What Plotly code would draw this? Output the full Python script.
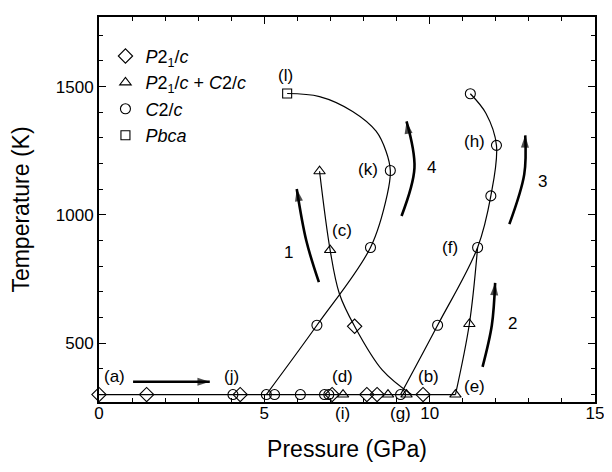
import plotly.graph_objects as go

# ---------------- data (pressure GPa, temperature K) ----------------
p21c_P = [0.0, 1.44, 4.27, 7.05, 8.10, 8.41, 9.80, 7.73]
p21c_T = [300, 300, 300, 300, 300, 300, 300, 566]

mix_P = [7.38, 8.74, 9.30, 10.78, 6.99, 6.67, 11.20]
mix_T = [300, 300, 300, 300, 863, 1170, 575]

c2c_P = [4.05, 5.06, 5.31, 6.09, 6.82, 6.95, 9.12, 6.59, 8.21, 8.81,
         10.24, 11.45, 11.85, 12.02, 11.23]
c2c_T = [300, 300, 300, 300, 300, 300, 300, 570, 873, 1173,
         570, 873, 1074, 1271, 1472]

pbca_P = [5.69]
pbca_T = [1473]

# phase-boundary guide curves
curveA_P = [5.06, 6.59, 8.21, 8.72, 8.81, 8.68, 8.38, 7.67, 6.67, 5.69]
curveA_T = [300, 570, 873, 1081, 1173, 1248, 1326, 1403, 1461, 1473]
curveB_P = [6.67, 6.99, 7.27, 7.73, 8.57, 9.45]
curveB_T = [1170, 863, 693, 566, 395, 300]
curveC_P = [9.12, 10.24, 11.45, 11.85, 12.02, 11.70, 11.23]
curveC_T = [300, 570, 873, 1074, 1271, 1396, 1472]
curveD_P = [10.78, 11.20, 11.45]
curveD_T = [300, 575, 873]
base_P = [0.0, 10.78]
base_T = [300, 300]

# path arrows
arrows = {
    "a": ([1.03, 3.35], [350, 350]),
    "1": ([6.65, 6.27, 5.98], [738, 899, 1101]),
    "2": ([11.60, 11.88, 11.98], [408, 570, 735]),
    "3": ([12.41, 12.86, 12.89], [964, 1158, 1310]),
    "4": ([9.15, 9.54, 9.30], [996, 1183, 1364]),
}

# labels inside plot
lab_text = ["(a)", "(j)", "(d)", "(b)", "(e)", "(c)", "(k)", "(l)", "(h)", "(f)",
            "1", "2", "3", "4"]
lab_P = [0.48, 4.0, 7.35, 9.96, 11.35, 7.35, 8.13, 5.63, 11.35, 10.6,
         5.73, 12.5, 13.41, 10.07]
lab_T = [369, 369, 369, 369, 333, 938, 1177, 1545, 1287, 873,
         854, 575, 1132, 1183]
# labels below the axis
low_text = ["(i)", "(g)"]
low_P = [7.37, 9.13]

FONT = "Liberation Sans, Arial, Helvetica, sans-serif"

fig = go.Figure()

line_style = dict(color="black", width=1.2, shape="spline", smoothing=1.0)
for px, ty in [(curveA_P, curveA_T), (curveB_P, curveB_T), (curveC_P, curveC_T),
               (curveD_P, curveD_T)]:
    fig.add_trace(go.Scatter(x=px, y=ty, mode="lines", line=line_style,
                             showlegend=False, hoverinfo="skip"))
fig.add_trace(go.Scatter(x=base_P, y=base_T, mode="lines",
                         line=dict(color="black", width=1.2),
                         showlegend=False, hoverinfo="skip", cliponaxis=False))

for key, (px, ty) in arrows.items():
    n = len(px)
    fig.add_trace(go.Scatter(
        x=px, y=ty, mode="lines+markers",
        line=dict(color="black", width=2.6, shape="spline"),
        marker=dict(symbol=["circle"] * (n - 1) + ["arrow"],
                    size=[0] * (n - 1) + [13],
                    angleref="previous", color="black",
                    line=dict(width=0)),
        showlegend=False, hoverinfo="skip"))

fig.add_trace(go.Scatter(x=p21c_P, y=p21c_T, mode="markers", cliponaxis=False,
                         name="<i>P</i>2<sub>1</sub>/<i>c</i>",
                         marker=dict(symbol="diamond-open", size=11, color="black",
                                     line=dict(width=1.1))))
fig.add_trace(go.Scatter(x=mix_P, y=mix_T, mode="markers", cliponaxis=False,
                         name="<i>P</i>2<sub>1</sub>/<i>c</i> + <i>C</i>2/<i>c</i>",
                         marker=dict(symbol="triangle-up-open", size=10, color="black",
                                     line=dict(width=1.1))))
fig.add_trace(go.Scatter(x=c2c_P, y=c2c_T, mode="markers", cliponaxis=False,
                         name="<i>C</i>2/<i>c</i>",
                         marker=dict(symbol="circle-open", size=10, color="black",
                                     line=dict(width=1.1))))
fig.add_trace(go.Scatter(x=pbca_P, y=pbca_T, mode="markers", cliponaxis=False,
                         name="<i>Pbca</i>",
                         marker=dict(symbol="square-open", size=9, color="black",
                                     line=dict(width=1.1))))

annotations = []
for t, x, y in zip(lab_text, lab_P, lab_T):
    annotations.append(dict(x=x, y=y, xref="x", yref="y", text=t, showarrow=False,
                            font=dict(size=17, color="black", family=FONT)))
for t, x in zip(low_text, low_P):
    annotations.append(dict(x=x, y=0.0, xref="x", yref="paper", text=t,
                            showarrow=False, yanchor="top",
                            font=dict(size=17, color="black", family=FONT)))

axis_common = dict(showline=True, linecolor="black", linewidth=2, mirror="ticks",
                   ticks="inside", ticklen=7, tickwidth=1.2, tickcolor="black",
                   showgrid=False, zeroline=False,
                   tickfont=dict(size=17, color="black", family=FONT))

fig.update_layout(
    width=604, height=464,
    margin=dict(l=91, r=17, t=7, b=70),
    paper_bgcolor="white", plot_bgcolor="white",
    font=dict(family=FONT, color="black"),
    xaxis=dict(range=[0, 15], tickvals=[0, 5, 10, 15], ticklabelstandoff=-5,
               minor=dict(dtick=1, ticks="inside", ticklen=4, tickcolor="black"),
               title=dict(text="Pressure (GPa)", font=dict(size=23), standoff=18),
               **axis_common),
    yaxis=dict(range=[271, 1771], tickvals=[500, 1000, 1500],
               minor=dict(dtick=100, tick0=0, ticks="inside", ticklen=4, tickcolor="black"),
               title=dict(text="Temperature (K)", font=dict(size=23), standoff=20),
               **axis_common),
    legend=dict(x=0.013, y=0.946, xanchor="left", yanchor="top",
                bgcolor="rgba(0,0,0,0)", font=dict(size=18, family=FONT),
                tracegroupgap=0, itemwidth=30),
    annotations=annotations,
)

fig.write_html("out.html")
